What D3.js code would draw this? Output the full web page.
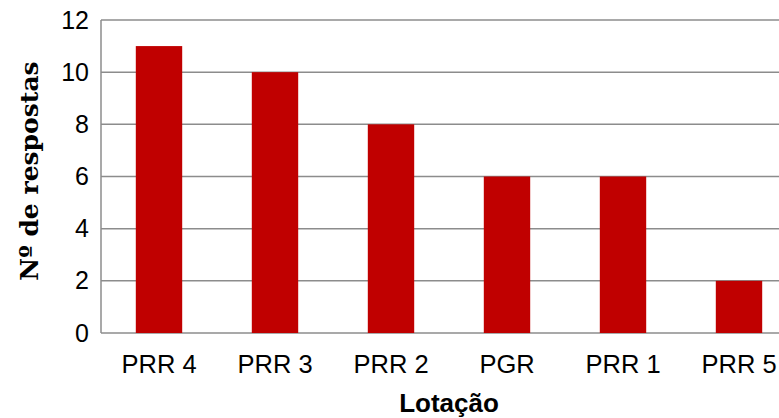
<!DOCTYPE html>
<html>
<head>
<meta charset="utf-8">
<script src="https://cdn.jsdelivr.net/npm/d3@7"></script>
<style>
	body { margin: 0; background: #fff; }
	svg { display: block; }
</style>
</head>
<body>
<div id="chart"></div>
<script>
// chart data
var categories = ["PRR 4", "PRR 3", "PRR 2", "PGR", "PRR 1", "PRR 5"];
var values = [11, 10, 8, 6, 6, 2];
var yTicks = [0, 2, 4, 6, 8, 10, 12];

var W = 779, H = 418;
var margin = { top: 20, right: -18, bottom: 85, left: 101 },
	width = W - margin.left - margin.right,
	height = H - margin.top - margin.bottom;

var svg = d3.select("#chart")
	.append("svg")
	.attr("width", W)
	.attr("height", H);

var g = svg.append("g")
	.attr("transform", "translate(" + margin.left + "," + margin.top + ")");

var x = d3.scaleBand()
	.domain(categories)
	.range([0, width])
	.paddingInner(0.6)
	.paddingOuter(0.3);

var y = d3.scaleLinear()
	.domain([0, 12])
	.range([height, 0]);

// gridlines
g.append("g")
	.selectAll("line")
	.data(yTicks)
	.join("line")
	.attr("x1", 0)
	.attr("x2", width)
	.attr("y1", d => y(d))
	.attr("y2", d => y(d))
	.attr("stroke", "#8c8c8c")
	.attr("stroke-width", 1.5);

// left axis line
g.append("line")
	.attr("x1", 0).attr("x2", 0)
	.attr("y1", 0).attr("y2", height)
	.attr("stroke", "#8c8c8c")
	.attr("stroke-width", 1.5);

// bars
g.selectAll("rect")
	.data(values)
	.join("rect")
	.attr("x", (d, i) => x(categories[i]))
	.attr("y", d => y(d))
	.attr("width", x.bandwidth())
	.attr("height", d => height - y(d))
	.attr("fill", "#c00000");

// y axis labels
var yAxis = g.append("g")
	.call(d3.axisLeft(y).tickValues(yTicks).tickSize(0).tickPadding(12));
yAxis.select(".domain").remove();
yAxis.selectAll("text")
	.attr("font-family", "Liberation Sans, Arial, sans-serif")
	.attr("font-size", 25)
	.attr("fill", "#000");

// x axis labels
var xAxis = g.append("g")
	.attr("transform", "translate(0," + height + ")")
	.call(d3.axisBottom(x).tickSize(0).tickPadding(22));
xAxis.select(".domain").remove();
xAxis.selectAll("text")
	.attr("font-family", "Liberation Sans, Arial, sans-serif")
	.attr("font-size", 25.5)
	.attr("fill", "#000");

// axis titles
svg.append("text")
	.attr("x", margin.left + width / 2)
	.attr("y", 412)
	.attr("text-anchor", "middle")
	.attr("font-family", "Liberation Sans, Arial, sans-serif")
	.attr("font-weight", "bold")
	.attr("font-size", 26)
	.text("Lotação");

svg.append("text")
	.attr("transform", "translate(38,171) rotate(-90)")
	.attr("text-anchor", "middle")
	.attr("font-family", "DejaVu Serif, serif")
	.attr("font-weight", "bold")
	.attr("font-size", 25)
	.text("Nº de respostas");
</script>
</body>
</html>
